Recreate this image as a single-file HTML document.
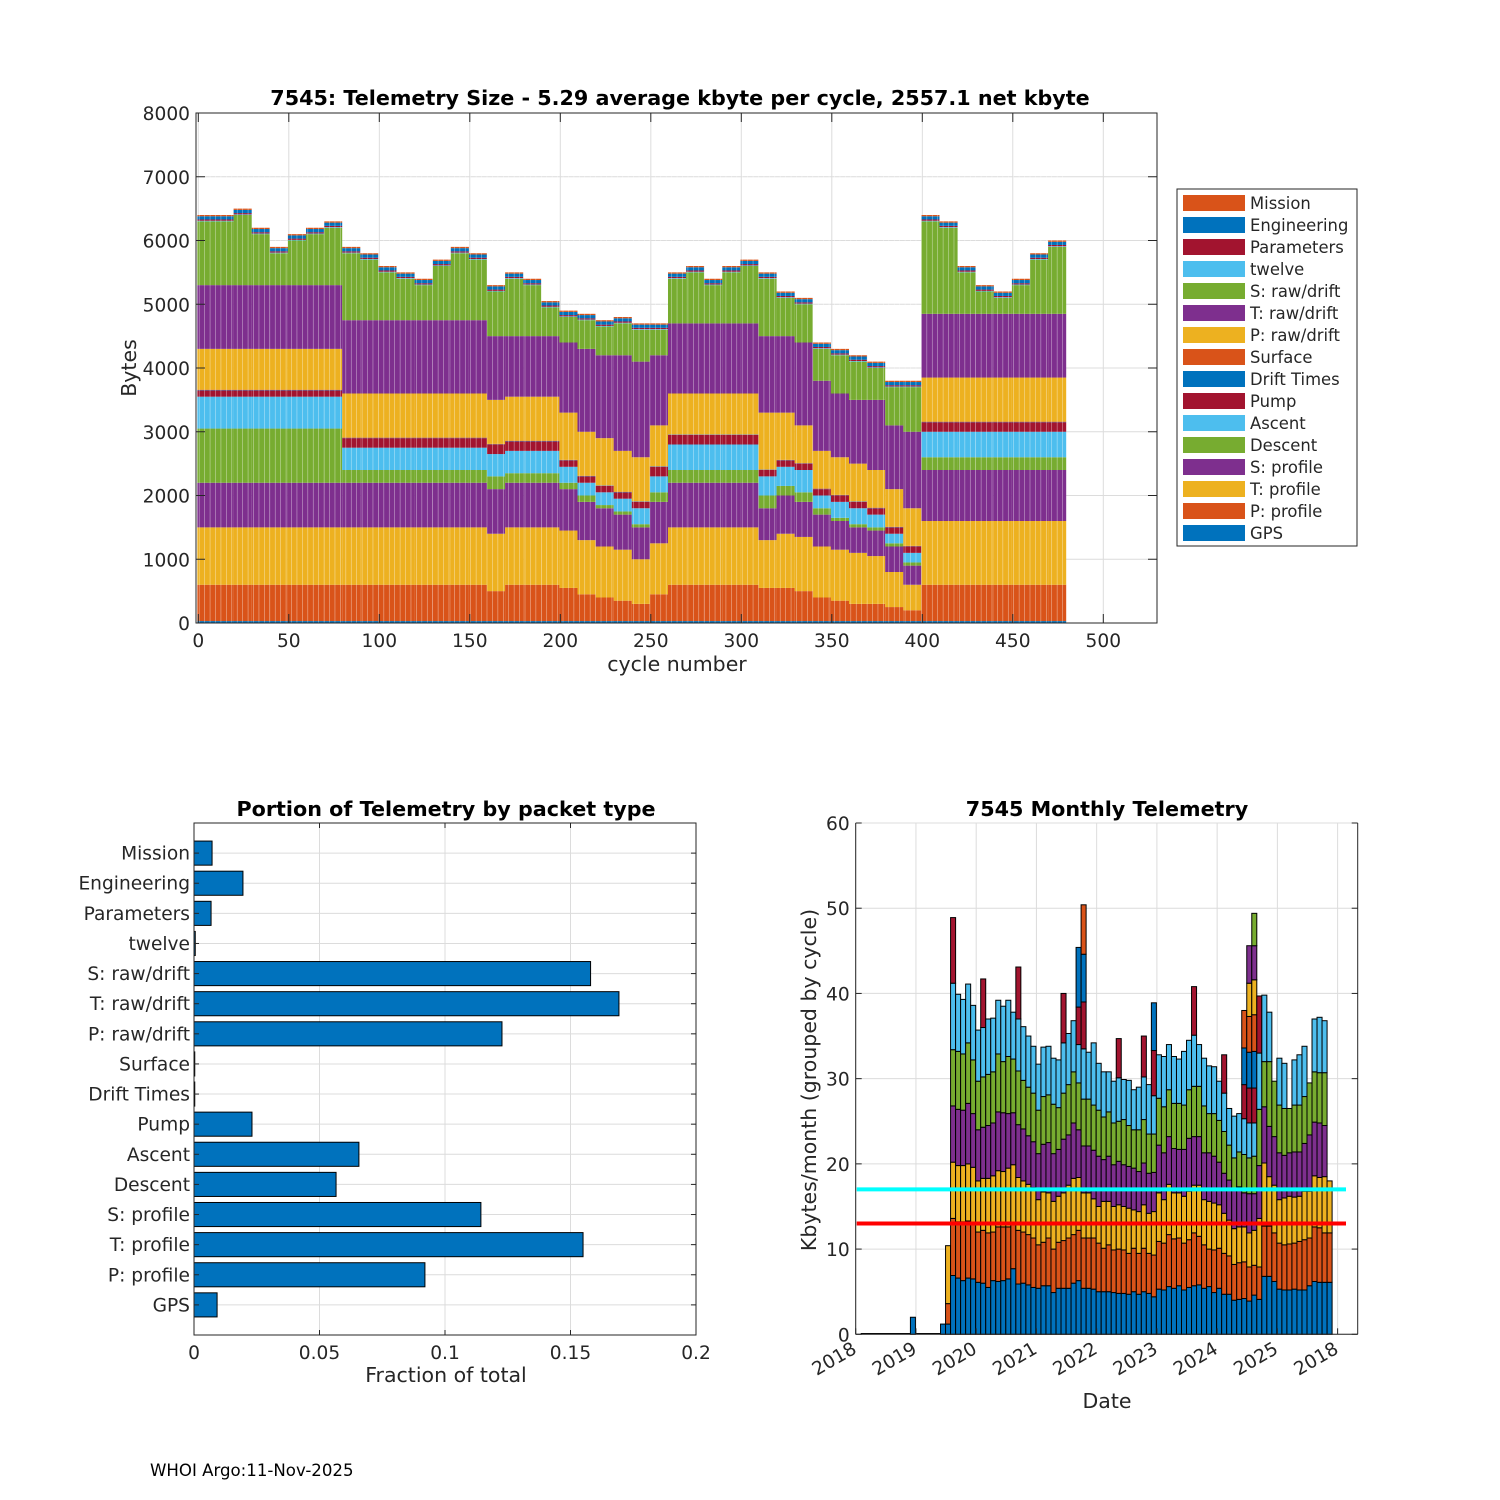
<!DOCTYPE html>
<html><head><meta charset="utf-8"><style>
html,body{margin:0;padding:0;background:#fff;}
svg{display:block;font-family:"DejaVu Sans","Liberation Sans",sans-serif;}
</style></head><body>
<svg id="fig" width="1500" height="1500" viewBox="0 0 1500 1500" xmlns="http://www.w3.org/2000/svg">
<rect width="1500" height="1500" fill="#fff"/>
<g id="top"></g>
<g id="bl"></g>
<g id="br"></g>
<text x="150" y="1476" font-size="16.6" fill="#000">WHOI Argo:11-Nov-2025</text>
</svg>
<script>
// ---------- TOP CHART DATA (10-cycle blocks, bytes per cycle) ----------
const blockStart = [0,10,20,30,40,50,60,70,80,90,100,110,120,130,140,150,160,170,180,190,200,210,220,230,240,250,260,270,280,290,300,310,320,330,340,350,360,370,380,390,400,410,420,430,440,450,460,470];
const gpsVals   = [30,30,30,30,30,30,30,30,30,30,30,30,30,30,30,30,30,30,30,30,30,30,30,30,30,30,30,30,30,30,30,30,30,30,30,30,30,30,30,30,30,30,30,30,30,30,30,30];
const pProfVals = [570,570,570,570,570,570,570,570,570,570,570,570,570,570,570,570,470,570,570,570,520,420,370,320,270,420,570,570,570,570,570,520,520,470,370,320,270,270,220,170,570,570,570,570,570,570,570,570];
const tProfVals = [900,900,900,900,900,900,900,900,900,900,900,900,900,900,900,900,900,900,900,900,900,850,800,800,700,800,900,900,900,900,900,750,850,850,800,800,800,750,550,400,1000,1000,1000,1000,1000,1000,1000,1000];
const sProfVals = [700,700,700,700,700,700,700,700,700,700,700,700,700,700,700,700,700,700,700,700,650,600,600,550,500,650,700,700,700,700,700,500,600,550,500,450,400,400,400,300,800,800,800,800,800,800,800,800];
const descVals  = [850,850,850,850,850,850,850,850,200,200,200,200,200,200,200,200,200,150,150,150,100,100,50,50,50,150,200,200,200,200,200,200,150,150,100,50,50,50,50,50,200,200,200,200,200,200,200,200];
const ascVals   = [500,500,500,500,500,500,500,500,350,350,350,350,350,350,350,350,350,350,350,350,250,200,200,200,250,250,400,400,400,400,400,300,300,350,200,250,250,200,150,150,400,400,400,400,400,400,400,400];
const pumpVals  = [100,100,100,100,100,100,100,100,150,150,150,150,150,150,150,150,150,150,150,150,100,100,100,100,100,150,150,150,150,150,150,100,100,100,100,100,100,100,100,100,150,150,150,150,150,150,150,150];
const driftVals = [5,5,5,5,5,5,5,5,5,5,5,5,5,5,5,5,5,5,5,5,5,5,5,5,5,5,5,5,5,5,5,5,5,5,5,5,5,5,5,5,5,5,5,5,5,5,5,5];
const surfVals  = [5,5,5,5,5,5,5,5,5,5,5,5,5,5,5,5,5,5,5,5,5,5,5,5,5,5,5,5,5,5,5,5,5,5,5,5,5,5,5,5,5,5,5,5,5,5,5,5];
const pRawVals  = [640,640,640,640,640,640,640,640,690,690,690,690,690,690,690,690,690,690,690,690,740,690,740,640,690,640,640,640,640,640,640,890,740,590,590,590,590,590,590,590,690,690,690,690,690,690,690,690];
const tRawVals  = [1000,1000,1000,1000,1000,1000,1000,1000,1150,1150,1150,1150,1150,1150,1150,1150,1000,950,950,950,1100,1300,1300,1500,1500,1100,1100,1100,1100,1100,1100,1200,1200,1300,1100,1000,1000,1100,1000,1200,1000,1000,1000,1000,1000,1000,1000,1000];
const sRawVals  = [1000,1000,1100,800,500,700,800,900,1050,950,750,650,550,850,1050,950,700,900,800,450,400,450,450,500,500,400,700,800,600,800,900,900,600,600,500,600,600,500,600,700,1450,1350,650,350,250,450,850,1050];
const twelveVals= [10,10,10,10,10,10,10,10,10,10,10,10,10,10,10,10,10,10,10,10,10,10,10,10,10,10,10,10,10,10,10,10,10,10,10,10,10,10,10,10,10,10,10,10,10,10,10,10];
const paramVals = [20,20,20,20,20,20,20,20,20,20,20,20,20,20,20,20,20,20,20,20,20,20,20,20,20,20,20,20,20,20,20,20,20,20,20,20,20,20,20,20,20,20,20,20,20,20,20,20];
const engVals   = [50,50,50,50,50,50,50,50,50,50,50,50,50,50,50,50,50,50,50,50,50,50,50,50,50,50,50,50,50,50,50,50,50,50,50,50,50,50,50,50,50,50,50,50,50,50,50,50];
const missVals  = [20,20,20,20,20,20,20,20,20,20,20,20,20,20,20,20,20,20,20,20,20,20,20,20,20,20,20,20,20,20,20,20,20,20,20,20,20,20,20,20,20,20,20,20,20,20,20,20];
const seriesNames = ["GPS","P: profile","T: profile","S: profile","Descent","Ascent","Pump","Drift Times","Surface","P: raw/drift","T: raw/drift","S: raw/drift","twelve","Parameters","Engineering","Mission"];
const xTicksTop = [0,50,100,150,200,250,300,350,400,450,500];
const yTicksTop = [0,1000,2000,3000,4000,5000,6000,7000,8000];

// ---------- BOTTOM-LEFT DATA ----------
const fracCats = ["GPS","P: profile","T: profile","S: profile","Descent","Ascent","Pump","Drift Times","Surface","P: raw/drift","T: raw/drift","S: raw/drift","twelve","Parameters","Engineering","Mission"];
const fracVals = [0.0092,0.092,0.155,0.1143,0.0566,0.0657,0.0231,0.0003,0.0003,0.1227,0.1693,0.158,0.0005,0.0068,0.0195,0.0072];
const fracTicks = [0,0.05,0.1,0.15,0.2];
const fracTickLabels = ["0","0.05","0.1","0.15","0.2"];

// ---------- BOTTOM-RIGHT DATA (cumulative per-cycle stack tops, kbytes, month 0 = Jan 2018) ----------
const monthTops = [[],[],[],[],[],[],[],[],[],[],[],[2.0],[],[],[],[],[],[1.2],[1.2,3.6,10.4],
[6.9,13.6,20.2,26.8,33.4,41.2,48.9],[6.6,13.2,19.8,26.4,33.2,39.9],[6.3,13.2,19.8,26.3,32.9,39.3],[6.6,13.3,20.0,27.1,34.2,41.1],[6.5,13.0,19.6,25.9,32.2,38.6],[6.1,12.0,18.0,24.0,29.7,35.7],
[6.0,12.2,18.3,24.3,30.2,36.0,41.7],[5.5,11.9,18.3,24.5,30.5,37.0],[6.3,12.0,18.6,24.8,30.8,37.1],[6.2,12.6,19.2,26.1,32.9,39.2],[6.3,12.6,19.1,26.0,32.0,38.5],[6.5,12.6,19.5,25.9,32.6,39.2],
[7.7,13.0,19.9,26.0,32.3,37.8],[5.9,12.2,18.4,24.6,30.9,37.0,43.1],[6.0,12.0,18.0,24.1,29.8,36.1],[5.8,11.7,17.6,23.3,29.0,35.0],[5.5,11.3,17.2,22.6,28.3,33.8],[5.4,10.5,15.8,21.2,26.3,31.7],
[5.7,10.8,16.7,22.3,27.9,33.7],[5.7,11.3,16.6,22.5,28.1,33.8],[4.9,10.0,15.6,21.2,27.0,32.4],[5.4,10.8,16.2,21.7,26.6,32.2],[5.4,11.0,16.6,22.9,28.3,34.2,40.0],[5.4,11.3,17.5,23.4,29.3,35.3],
[6.0,11.7,18.3,24.8,30.8,36.8],[6.3,12.2,18.4,24.0,29.5,34.0,38.4,45.4],[5.4,11.3,16.6,22.1,27.6,33.5,39.0,44.6,50.4],[5.4,11.3,16.6,22.1,27.6,33.1],[5.3,11.3,15.9,21.6,26.9,34.2],[5.0,10.7,15.0,20.9,26.3,31.8],
[5.0,10.1,15.6,20.5,25.5,30.8],[5.0,10.5,15.6,20.9,26.1,30.8],[4.9,9.9,15.0,19.9,24.8,29.7],[4.8,10.0,15.2,20.3,25.0,30.1,34.7],[4.8,9.9,15.0,19.9,25.2,29.9],[4.7,9.5,14.8,19.7,24.5,29.8],
[5.0,10.1,14.6,19.5,24.0,28.7],[4.7,9.5,14.4,19.1,24.0,29.0],[5.0,10.1,15.2,20.1,25.2,30.2,35.0],[4.8,9.5,14.2,18.9,23.5,29.3],[4.4,9.3,14.4,19.0,23.5,28.0,33.3,38.9],[5.3,10.9,16.6,22.2,27.7,32.8],
[5.2,10.7,15.8,21.3,26.7,32.6],[5.6,11.7,17.6,23.2,28.7,34.0],[5.4,11.2,16.6,21.8,27.1,32.6],[5.7,11.3,16.6,21.7,27.1,32.3],[5.2,10.7,16.2,21.7,26.9,33.2],[5.5,11.1,16.8,23.0,28.7,34.5],
[5.7,11.9,17.5,23.2,29.1,35.1,40.8],[5.8,11.5,17.5,23.2,29.1,34.0],[5.4,10.5,15.8,21.3,26.8,32.4],[5.6,10.0,15.6,21.3,25.9,31.5],[4.9,9.9,15.4,20.9,25.9,31.4],[5.4,10.1,15.2,20.2,25.1,29.7],
[4.7,9.5,14.2,18.9,23.8,28.3,32.8],[4.7,9.2,13.4,18.1,22.2,26.5],[4.0,8.2,12.4,17.1,20.7,25.6],[4.1,8.4,12.6,17.3,21.4,25.9],[4.2,8.5,12.6,16.6,21.1,25.3,29.3,33.6,38.0],
[3.9,7.9,11.9,16.5,20.7,24.8,28.9,33.1,37.3,41.2,45.6],[4.6,8.1,12.2,16.5,20.9,24.8,28.9,33.2,37.5,41.6,45.6,49.4],[4.1,7.9,13.6,19.8,26.4,33.0,39.7],[6.8,12.7,20.1,26.7,32.0,39.8],
[6.8,12.7,18.5,24.4,32.0,37.8],[6.2,11.9,17.5,23.2,29.7],[5.3,10.7,15.8,21.3,26.9,32.4],[5.2,10.5,16.0,21.0,26.5,31.8],[5.2,10.6,16.2,21.3,26.5],[5.3,10.7,16.1,21.4,26.9,32.2],
[5.2,10.9,16.2,21.4,26.9,32.8],[5.2,11.1,16.8,22.4,27.9,33.8],[5.7,11.3,16.8,23.4,29.5],[6.2,12.6,18.6,24.9,30.8,37.0],[6.1,12.5,18.4,24.8,30.7,37.2],[6.1,11.9,18.5,24.5,30.7,36.8],[6.1,11.9,18.0]];
const refLineCyan = 17.0;
const refLineRed = 13.0;
const dateTickLabels = ["2018","2019","2020","2021","2022","2023","2024","2025","2018"];
const yTicksMonthly = [0,10,20,30,40,50,60];

// ---------- helpers ----------
const NS = "http://www.w3.org/2000/svg";
const colors = ["#0072BD","#D95319","#EDB120","#7E2F8E","#77AC30","#4DBEEE","#A2142F"];
function mk(parent, tag, attrs, txt){
  const e = document.createElementNS(NS, tag);
  for (const k in attrs) e.setAttribute(k, attrs[k]);
  if (txt !== undefined) e.textContent = txt;
  parent.appendChild(e);
  return e;
}
const gridC = "#dcdcdc", axC = "#262626", txtC = "#262626";
const TF = 18.6, TITLEF = 20.7, LABF = 20.5;

// ================= TOP CHART =================
(function(){
  const g = document.getElementById("top");
  const L=196, R=1157, T=113, B=623;
  const xs = c => 198.3 + c*1.81;
  const ys = v => B - v*(B-T)/8000;
  mk(g,"rect",{x:L,y:T,width:R-L,height:B-T,fill:"#fff"});
  xTicksTop.forEach(t=>{
    const gl = mk(g,"line",{x1:xs(t),x2:xs(t),y1:T,y2:B,stroke:gridC,"stroke-width":1});
    
    
  });
  yTicksTop.forEach(t=>{
    const gl = mk(g,"line",{x1:L,x2:R,y1:ys(t),y2:ys(t),stroke:gridC,"stroke-width":1});
    
    
  });
  const series = [gpsVals,pProfVals,tProfVals,sProfVals,descVals,ascVals,pumpVals,driftVals,surfVals,pRawVals,tRawVals,sRawVals,twelveVals,paramVals,engVals,missVals];
  const bars = mk(g,"g",{});
  
  
  for (let b=0;b<blockStart.length;b++){
    let cum = 0;
    for (let s=0;s<series.length;s++){
      const v = series[s][b];
      const x0 = xs(blockStart[b]-0.5), x1 = xs(blockStart[b]+9.5);
      const r = mk(bars,"rect",{x:x0,y:ys(cum+v),width:x1-x0,height:Math.max(0,ys(cum)-ys(cum+v)),fill:colors[s%7]});
      
      
      cum += v;
    }
  }
  for (let c=0;c<480;c+=3){
    const ln = mk(bars,"line",{x1:xs(c+0.5),x2:xs(c+0.5),y1:T,y2:B,stroke:"#fff","stroke-width":0.6,"stroke-opacity":0.55});
    
    
  }
  const fr = mk(g,"rect",{x:L,y:T,width:R-L,height:B-T,fill:"none",stroke:axC,"stroke-width":1});
  
  
  xTicksTop.forEach(t=>{
    mk(g,"line",{x1:xs(t),x2:xs(t),y1:B,y2:B-9,stroke:axC});
    mk(g,"line",{x1:xs(t),x2:xs(t),y1:T,y2:T+9,stroke:axC});
    const tl = mk(g,"text",{x:xs(t),y:B+24,"font-size":TF,"text-anchor":"middle",fill:txtC},String(t));
    
    
  });
  yTicksTop.forEach(t=>{
    mk(g,"line",{x1:L,x2:L+9,y1:ys(t),y2:ys(t),stroke:axC});
    mk(g,"line",{x1:R,x2:R-9,y1:ys(t),y2:ys(t),stroke:axC});
    const tl = mk(g,"text",{x:L-6,y:ys(t)+7,"font-size":TF,"text-anchor":"end",fill:txtC},String(t));
    
    
  });
  const tt = mk(g,"text",{x:680,y:105,"font-size":TITLEF,"font-weight":"bold","text-anchor":"middle",fill:"#000"},"7545: Telemetry Size - 5.29 average kbyte per cycle, 2557.1 net kbyte");
   
  const xl = mk(g,"text",{x:677,y:671,"font-size":LABF,"text-anchor":"middle",fill:txtC},"cycle number");
   
  const yl = mk(g,"text",{x:0,y:0,"font-size":LABF,"text-anchor":"middle",fill:txtC,transform:"translate(136,368) rotate(-90)"},"Bytes");
   
  const lg = mk(g,"g",{});
   
  mk(lg,"rect",{x:1177,y:189,width:180,height:357,fill:"#fff",stroke:axC,"stroke-width":1});
  for (let i=0;i<16;i++){
    const s = 15-i;
    const y = 203 + i*22;
    const ent = mk(lg,"g",{});
    
    
    mk(ent,"rect",{x:1183,y:y-8,width:62,height:16,fill:colors[s%7]});
    mk(ent,"text",{x:1250,y:y+6,"font-size":16.4,fill:txtC},seriesNames[s]);
  }
})();

// ================= BOTTOM-LEFT =================
(function(){
  const g = document.getElementById("bl");
  const L=194, R=696, T=823, B=1335;
  const xb = v => L + v*(R-L)/0.2;
  const yb = i => B - i*(B-T)/17;
  fracTicks.forEach(t=>{
    const gl = mk(g,"line",{x1:xb(t),x2:xb(t),y1:T,y2:B,stroke:gridC});
     
  });
  fracCats.forEach((c,i)=>{
    const gl = mk(g,"line",{x1:L,x2:R,y1:yb(i+1),y2:yb(i+1),stroke:gridC});
     
  });
  fracVals.forEach((v,i)=>{
    const h = 0.8*(B-T)/17;
    const r = mk(g,"rect",{x:xb(0),y:yb(i+1)-h/2,width:xb(v)-xb(0),height:h,fill:"#0072BD",stroke:"#000","stroke-width":1});
    
    
    const tl = mk(g,"text",{x:L-4,y:yb(i+1)+6.5,"font-size":TF,"text-anchor":"end",fill:txtC},fracCats[i]);
     
    mk(g,"line",{x1:L,x2:L+5,y1:yb(i+1),y2:yb(i+1),stroke:axC});
    mk(g,"line",{x1:R,x2:R-5,y1:yb(i+1),y2:yb(i+1),stroke:axC});
  });
  const fr = mk(g,"rect",{x:L,y:T,width:R-L,height:B-T,fill:"none",stroke:axC});
   
  fracTicks.forEach((t,i)=>{
    mk(g,"line",{x1:xb(t),x2:xb(t),y1:B,y2:B-5,stroke:axC});
    mk(g,"line",{x1:xb(t),x2:xb(t),y1:T,y2:T+5,stroke:axC});
    const tl = mk(g,"text",{x:xb(t),y:B+24,"font-size":TF,"text-anchor":"middle",fill:txtC},fracTickLabels[i]);
     
  });
  const tt = mk(g,"text",{x:446,y:816,"font-size":TITLEF,"font-weight":"bold","text-anchor":"middle",fill:"#000"},"Portion of Telemetry by packet type");
   
  const xl = mk(g,"text",{x:446,y:1382,"font-size":LABF,"text-anchor":"middle",fill:txtC},"Fraction of total");
   
})();

// ================= BOTTOM-RIGHT =================
(function(){
  const g = document.getElementById("br");
  const L=855.7, R=1357.7, T=823, B=1334.3;
  const mw = 5.02;
  const xm = m => L + m*mw;
  const ym = v => B - v*(B-T)/60;
  dateTickLabels.forEach((l,i)=>{
    const gl = mk(g,"line",{x1:xm(i*12),x2:xm(i*12),y1:T,y2:B,stroke:gridC});
     
  });
  yTicksMonthly.forEach(t=>{
    const gl = mk(g,"line",{x1:L,x2:R,y1:ym(t),y2:ym(t),stroke:gridC});
     
  });
  const bl = mk(g,"line",{x1:xm(1),x2:xm(18.4),y1:B-0.5,y2:B-0.5,stroke:"#000","stroke-width":1.5});
   
  monthTops.forEach((tops,m)=>{
    let prev = 0;
    tops.forEach((top,k)=>{
      const r = mk(g,"rect",{x:xm(m-0.1),y:ym(top),width:mw,height:ym(prev)-ym(top),fill:colors[k%7],stroke:"#000","stroke-width":1});
      
      
      prev = top;
    });
  });
  const c1 = mk(g,"line",{x1:856.7,x2:1346,y1:ym(refLineCyan),y2:ym(refLineCyan),stroke:"#00FFFF","stroke-width":4});
   
  const c2 = mk(g,"line",{x1:856.7,x2:1346,y1:ym(refLineRed),y2:ym(refLineRed),stroke:"#FF0000","stroke-width":4});
   
  mk(g,"line",{x1:L,x2:L,y1:T,y2:B,stroke:axC});
  mk(g,"line",{x1:R,x2:R,y1:T,y2:B,stroke:axC});
  mk(g,"line",{x1:L,x2:R,y1:B,y2:B,stroke:axC});
  yTicksMonthly.forEach(t=>{
    mk(g,"line",{x1:L,x2:L+6,y1:ym(t),y2:ym(t),stroke:axC});
    mk(g,"line",{x1:R,x2:R-6,y1:ym(t),y2:ym(t),stroke:axC});
    const tl = mk(g,"text",{x:L-6,y:ym(t)+7,"font-size":TF,"text-anchor":"end",fill:txtC},String(t));
     
  });
  dateTickLabels.forEach((l,i)=>{
    const x = xm(i*12);
    mk(g,"line",{x1:x,x2:x,y1:B,y2:B-6,stroke:axC});
    const tl = mk(g,"text",{x:0,y:0,"font-size":TF,"text-anchor":"end",fill:txtC,transform:"translate("+(x+2)+","+(B+18)+") rotate(-30)"},l);
     
  });
  const tt = mk(g,"text",{x:1107,y:816,"font-size":TITLEF,"font-weight":"bold","text-anchor":"middle",fill:"#000"},"7545 Monthly Telemetry");
   
  const xl = mk(g,"text",{x:1107,y:1408,"font-size":LABF,"text-anchor":"middle",fill:txtC},"Date");
   
  const yl = mk(g,"text",{x:0,y:0,"font-size":LABF,"text-anchor":"middle",fill:txtC,transform:"translate(816,1080) rotate(-90)"},"Kbytes/month (grouped by cycle)");
   
})();
</script>
</body></html>
